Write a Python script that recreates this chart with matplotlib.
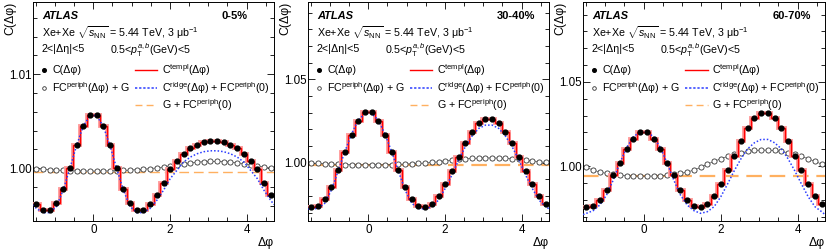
import numpy as np
import matplotlib
matplotlib.use('Agg')
import matplotlib.pyplot as plt
from matplotlib.lines import Line2D
from matplotlib.ticker import MultipleLocator, FormatStrFormatter

plt.rcParams['font.family'] = ['Liberation Sans', 'DejaVu Sans']
plt.rcParams['mathtext.fontset'] = 'custom'
plt.rcParams['mathtext.rm'] = 'Liberation Sans'
plt.rcParams['mathtext.it'] = 'Liberation Sans:italic'
plt.rcParams['mathtext.bf'] = 'Liberation Sans:bold'
plt.rcParams['mathtext.sf'] = 'Liberation Sans'

centralities = ['0-5%', '30-40%', '60-70%']

# ---- measured C(dphi), 36 bins from -pi/2 to 3pi/2 ----
data_0_5 = [0.99613, 0.99555, 0.99555, 0.99625, 0.99780, 0.99997, 1.00241, 1.00450, 1.00566,
            1.00566, 1.00450, 1.00241, 0.99997, 0.99780, 0.99625, 0.99555, 0.99555, 0.99613,
            0.99715, 0.99841, 0.99990, 1.00070, 1.00150, 1.00210, 1.00250, 1.00280, 1.00290,
            1.00290, 1.00280, 1.00250, 1.00210, 1.00150, 1.00070, 0.99990, 0.99841, 0.99715]
data_30_40 = [0.97344, 0.97424, 0.97804, 0.98523, 0.99562, 1.00622, 1.01661, 1.02520, 1.03020,
              1.03020, 1.02520, 1.01661, 1.00622, 0.99562, 0.98523, 0.97804, 0.97424, 0.97344,
              0.97524, 0.98004, 0.98703, 0.99502, 1.00362, 1.01201, 1.01860, 1.02360, 1.02620,
              1.02620, 1.02360, 1.01860, 1.01201, 1.00362, 0.99502, 0.98703, 0.98004, 0.97524]
data_60_70 = [0.97588, 0.97647, 0.97983, 0.98577, 0.99466, 1.00198, 1.00989, 1.01582, 1.02036,
              1.02036, 1.01582, 1.00989, 1.00198, 0.99466, 0.98577, 0.97983, 0.97647, 0.97588,
              0.97746, 0.98221, 0.98932, 0.99763, 1.00613, 1.01502, 1.02273, 1.02827, 1.03124,
              1.03124, 1.02827, 1.02273, 1.01502, 1.00613, 0.99763, 0.98932, 0.98221, 0.97746]

# ---- template fit C^templ (per bin) ----
templ_0_5 = list(data_0_5)
templ_30_40 = list(data_30_40)
templ_60_70 = list(data_60_70)

# ---- FC^periph(dphi) + G (per bin) ----
periph_0_5 = [0.99994, 0.99988, 0.99983, 0.99979, 0.99975, 0.99972, 0.99970, 0.99969, 0.99968,
              0.99968, 0.99969, 0.99970, 0.99972, 0.99975, 0.99979, 0.99983, 0.99988, 0.99994,
              1.00002, 1.00012, 1.00024, 1.00036, 1.00047, 1.00056, 1.00063, 1.00068, 1.00070,
              1.00070, 1.00068, 1.00063, 1.00056, 1.00047, 1.00036, 1.00024, 1.00012, 1.00002]
periph_30_40 = [0.99982, 0.99962, 0.99942, 0.99922, 0.99902, 0.99892, 0.99882, 0.99882, 0.99882,
                0.99882, 0.99882, 0.99882, 0.99892, 0.99902, 0.99922, 0.99942, 0.99962, 0.99982,
                1.00022, 1.00062, 1.00122, 1.00162, 1.00202, 1.00242, 1.00262, 1.00282, 1.00292,
                1.00292, 1.00282, 1.00262, 1.00242, 1.00202, 1.00162, 1.00122, 1.00062, 1.00022]
periph_60_70 = [0.99921, 0.99763, 0.99644, 0.99565, 0.99506, 0.99466, 0.99427, 0.99407, 0.99407,
                0.99407, 0.99407, 0.99427, 0.99466, 0.99506, 0.99565, 0.99644, 0.99763, 0.99921,
                1.00119, 1.00277, 1.00435, 1.00573, 1.00692, 1.00791, 1.00870, 1.00929, 1.00949,
                1.00949, 1.00929, 1.00870, 1.00791, 1.00692, 1.00573, 1.00435, 1.00277, 1.00119]

# ---- C^ridge + FC^periph(0): left edge, 36 bin centres, right edge ----
ridge_0_5 = [0.99610,
             0.99570, 0.99525, 0.99525, 0.99590, 0.99765, 0.99995, 1.00238, 1.00445, 1.00560,
             1.00560, 1.00445, 1.00238, 0.99995, 0.99765, 0.99590, 0.99525, 0.99525, 0.99570,
             0.99657, 0.99764, 0.99888, 0.99976, 1.00064, 1.00117, 1.00152, 1.00174, 1.00184,
             1.00184, 1.00174, 1.00152, 1.00117, 1.00064, 0.99976, 0.99888, 0.99764, 0.99657,
             0.99610]
ridge_30_40 = [0.97240,
               0.97224, 0.97264, 0.97564, 0.98363, 0.99502, 1.00661, 1.01721, 1.02560, 1.02960,
               1.02960, 1.02560, 1.01721, 1.00661, 0.99502, 0.98363, 0.97564, 0.97264, 0.97224,
               0.97364, 0.97764, 0.98463, 0.99263, 1.00162, 1.00961, 1.01601, 1.02061, 1.02260,
               1.02260, 1.02061, 1.01601, 1.00961, 1.00162, 0.99263, 0.98463, 0.97764, 0.97364,
               0.97240]
ridge_60_70 = [0.97120,
               0.97193, 0.97351, 0.97687, 0.98280, 0.99170, 1.00198, 1.01107, 1.01740, 1.02036,
               1.02036, 1.01740, 1.01107, 1.00198, 0.99170, 0.98280, 0.97687, 0.97351, 0.97193,
               0.97291, 0.97588, 0.98181, 0.98932, 0.99723, 1.00435, 1.01028, 1.01384, 1.01582,
               1.01582, 1.01384, 1.01028, 1.00435, 0.99723, 0.98932, 0.98181, 0.97588, 0.97291,
               0.97120]

# ---- G + FC^periph(0) ----
flat_levels = [0.99963, 0.99862, 0.99407]
data_errors = [0.00020, 0.0010, 0.0010]

ylims = [(0.99436, 1.01769), (0.96505, 1.0965), (0.96738, 1.09745)]
ymajor = [0.01, 0.05, 0.05]
yminor = [0.002, 0.01, 0.01]

all_data = [data_0_5, data_30_40, data_60_70]
all_templ = [templ_0_5, templ_30_40, templ_60_70]
all_periph = [periph_0_5, periph_30_40, periph_60_70]
all_ridge = [ridge_0_5, ridge_30_40, ridge_60_70]

edges = np.linspace(-0.5 * np.pi, 1.5 * np.pi, 37)
centers = 0.5 * (edges[:-1] + edges[1:])
curve_x = np.concatenate([[edges[0]], centers, [edges[-1]]])

W, H = 830, 252
fig = plt.figure(figsize=(W / 100, H / 100), dpi=100)
panel_px = [(33, 274), (308, 549), (583, 825)]
top_px, bot_px = 2, 221

RED = '#ff0000'
PINK = '#ff9c9c'
BLUE = '#2a3cff'
ORANGE = '#ffb060'

fs = 7.7
for k in range(3):
    l, r = panel_px[k]
    ax = fig.add_axes([l / W, 1 - bot_px / H, (r - l) / W, (bot_px - top_px) / H])
    ax.axhline(flat_levels[k], color=ORANGE, ls=(0, (7, 3.5)), lw=1.0 if k == 0 else 1.6, zorder=1)
    ax.plot(centers, all_periph[k], ls='-', lw=0.5, color='#555555', marker='o', ms=3.7,
            mfc='white', mec='#333333', mew=0.6, zorder=2)
    ax.stairs(all_templ[k], edges, baseline=None, color=PINK, lw=2.8, zorder=3)
    ax.stairs(all_templ[k], edges, baseline=None, color=RED, lw=1.0, zorder=4)
    ax.plot(curve_x, all_ridge[k], color=BLUE, ls=(0, (1, 1.3)), lw=1.1, zorder=5)
    ax.errorbar(centers, all_data[k], yerr=data_errors[k], fmt='o', color='black', ms=3.5,
                elinewidth=0.8, capsize=0, zorder=6)

    ax.set_xlim(edges[0], edges[-1])
    ax.set_ylim(*ylims[k])
    ax.xaxis.set_major_locator(MultipleLocator(2))
    ax.xaxis.set_minor_locator(MultipleLocator(0.5))
    ax.yaxis.set_major_locator(MultipleLocator(ymajor[k]))
    ax.yaxis.set_minor_locator(MultipleLocator(yminor[k]))
    ax.yaxis.set_major_formatter(FormatStrFormatter('%.2f'))
    ax.tick_params(which='both', direction='in', top=True, right=True, labelsize=8.4, width=0.6)
    ax.tick_params(axis='x', which='major', length=5, pad=2.5)
    ax.tick_params(axis='x', which='minor', length=2.8)
    ax.tick_params(axis='y', which='major', length=5, pad=1.2)
    ax.tick_params(axis='y', which='minor', length=2.8)
    for s in ax.spines.values():
        s.set_linewidth(0.7)

    ax.text(-0.095, 1.0, 'C(Δφ)', rotation=90, ha='center', va='top', fontsize=8.8,
            transform=ax.transAxes)
    ax.text(1.0, -0.10, 'Δφ', ha='right', va='center', fontsize=8.8, transform=ax.transAxes)

    # annotations
    ax.text(0.037, 0.938, 'ATLAS', fontsize=8, fontweight='bold', fontstyle='italic',
            ha='left', va='center', transform=ax.transAxes)
    ax.text(0.784, 0.938, centralities[k], fontsize=8, fontweight='bold',
            ha='left', va='center', transform=ax.transAxes)
    ax.text(0.037, 0.862, r'Xe+Xe $\sqrt{s_{\mathrm{NN}}}$ = 5.44 TeV, 3 μb$^{\mathrm{-1}}$',
            fontsize=fs, ha='left', va='center', transform=ax.transAxes)
    ax.text(0.037, 0.787, '2<|Δη|<5', fontsize=fs, ha='left', va='center', transform=ax.transAxes)
    ax.text(0.32, 0.782, r'0.5<$p_{\mathrm{T}}^{a,b}$(GeV)<5', fontsize=fs, ha='left',
            va='center', transform=ax.transAxes)

    # legend
    ry = [0.69, 0.607, 0.53]
    ax.add_line(Line2D([0.046], [ry[0]], marker='o', ms=2.6, color='black', ls='none',
                       transform=ax.transAxes))
    ax.text(0.079, ry[0], 'C(Δφ)', fontsize=fs, ha='left', va='center', transform=ax.transAxes)
    ax.add_line(Line2D([0.046], [ry[1]], marker='o', ms=2.6, mfc='white', mec='#333333',
                       mew=0.6, ls='none', transform=ax.transAxes))
    ax.text(0.079, ry[1], r'FC$^{\mathrm{periph}}$(Δφ) + G', fontsize=fs, ha='left',
            va='center', transform=ax.transAxes)
    ax.add_line(Line2D([0.423, 0.515], [ry[0], ry[0]], color=RED, lw=1.0,
                       transform=ax.transAxes))
    ax.text(0.535, ry[0], r'C$^{\mathrm{templ}}$(Δφ)', fontsize=fs, ha='left', va='center',
            transform=ax.transAxes)
    ax.add_line(Line2D([0.423, 0.515], [ry[1], ry[1]], color=BLUE, lw=1.1, ls=(0, (1.5, 1.2)),
                       transform=ax.transAxes))
    ax.text(0.535, ry[1], r'C$^{\mathrm{ridge}}$(Δφ) + FC$^{\mathrm{periph}}$(0)', fontsize=fs,
            ha='left', va='center', transform=ax.transAxes)
    ax.add_line(Line2D([0.423, 0.515], [ry[2], ry[2]], color=ORANGE, lw=1.0, ls=(0, (5, 3)),
                       transform=ax.transAxes))
    ax.text(0.535, ry[2], r'G + FC$^{\mathrm{periph}}$(0)', fontsize=fs, ha='left', va='center',
            transform=ax.transAxes)

fig.savefig('out.png', dpi=100)
